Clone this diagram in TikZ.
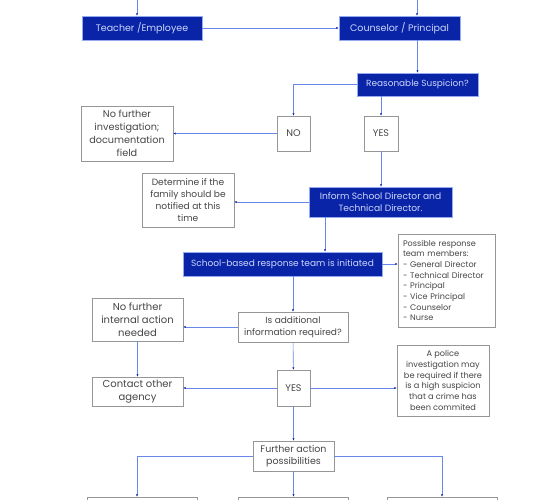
\documentclass[tikz,border=0pt]{standalone}
\usepackage{fontspec}
\setmainfont{Poppins}
\usepackage{xcolor}
\definecolor{bxblue}{RGB}{10,36,168}
\definecolor{lnblue}{RGB}{105,135,232}
\definecolor{bxgray}{RGB}{150,150,150}
\definecolor{txgray}{RGB}{70,70,70}
\definecolor{txlight}{RGB}{205,215,250}
\usetikzlibrary{arrows.meta,positioning}

\tikzset{
  bluebox/.style={draw=lnblue!70, fill=bxblue, text=txlight, align=center, inner sep=2pt, font=\fontsize{9.5}{11}\selectfont},
  graybox/.style={draw=bxgray, fill=white, text=txgray, align=center, inner sep=2pt, font=\fontsize{9.6}{12.5}\selectfont},
  arr/.style={draw=lnblue, line width=0.6pt, -{Latex[length=2.5pt,width=2.2pt,color=bxblue]}},
}

\begin{document}
\begin{tikzpicture}[x=1pt, y=-1pt]
  \clip (0,0) rectangle (550,500);
  \fill[white] (0,0) rectangle (550,500);
  % top row
  \node[bluebox, minimum width=120pt, minimum height=24pt] (teach) at (142,28) {Teacher /Employee};
  \node[bluebox, minimum width=121pt, minimum height=24pt] (couns) at (399.5,28) {Counselor / Principal};
  \node[bluebox, minimum width=121pt, minimum height=23pt, font=\fontsize{8.9}{10}\selectfont] (reas) at (417.5,84.5) {Reasonable Suspicion?};
  % suspicion answers
  \node[graybox, minimum width=33pt, minimum height=35pt] (no) at (293.5,133.5) {NO};
  \node[graybox, minimum width=34pt, minimum height=35pt] (yes) at (381,133.5) {YES};
  \node[graybox, minimum width=92pt, minimum height=55pt, font=\fontsize{9.7}{12.8}\selectfont] (nofurther) at (127,133.5) {No further\\investigation;\\documentation\\field};
  \node[bluebox, minimum width=143pt, minimum height=30pt, font=\fontsize{9.1}{12}\selectfont] (inform) at (380.5,202) {Inform School Director and\\Technical Director.};
  \node[graybox, minimum width=92pt, minimum height=54pt, font=\fontsize{9.1}{12}\selectfont] (family) at (188,200) {Determine if the\\family should be\\notified at this\\time};
  % response team
  \node[bluebox, minimum width=199pt, minimum height=24pt, font=\fontsize{9}{10}\selectfont] (team) at (282.5,264) {School-based response team is initiated};
  \node[graybox, minimum width=97pt, minimum height=93pt, align=left, text width=87pt, inner xsep=5pt, font=\fontsize{8.1}{10.7}\selectfont] (members) at (446.5,280.5) {Possible response\\team members:\\- General Director\\- Technical Director\\- Principal\\- Vice Principal\\- Counselor\\- Nurse};
  \node[graybox, minimum width=110pt, minimum height=30pt, font=\fontsize{9}{12}\selectfont] (addinfo) at (293,327) {Is additional\\information required?};
  \node[graybox, minimum width=91pt, minimum height=43pt, font=\fontsize{10}{13}\selectfont] (internal) at (137.5,319.5) {No further\\internal action\\needed};
  \node[graybox, minimum width=91pt, minimum height=29pt, font=\fontsize{10}{13}\selectfont] (contact) at (137.5,391.5) {Contact other\\agency};
  \node[graybox, minimum width=33pt, minimum height=36pt] (yes2) at (293.5,388) {YES};
  \node[graybox, minimum width=92pt, minimum height=71pt, font=\fontsize{8.2}{10.8}\selectfont] (police) at (443,380.5) {A police\\investigation may\\be required if there\\is a high suspicion\\that a crime has\\been commited};
  \node[graybox, minimum width=81pt, minimum height=30pt, font=\fontsize{9.5}{12}\selectfont] (further) at (293.5,456) {Further action\\possibilities};
  % cut-off boxes at the bottom
  \node[graybox, minimum width=110pt, minimum height=40pt] (bl) at (142,517) {};
  \node[graybox, minimum width=110pt, minimum height=40pt] (bm) at (293,517) {};
  \node[graybox, minimum width=110pt, minimum height=40pt] (br) at (442,517) {};

  \coordinate (tin) at (137,-2);
  \coordinate (cin) at (417,-2);
  \draw[arr] (tin) -- (tin |- teach.north);
  \draw[arr] (cin) -- (cin |- couns.north);
  \draw[arr] (teach) -- (couns);
  \draw[arr] (reas.north |- couns.south) -- (reas.north);
  \draw[arr] (reas.west) -| (no.north);
  \draw[arr] (yes.north |- reas.south) -- (yes.north);
  \draw[arr] (no) -- (nofurther);
  \draw[arr] (yes) -- (yes |- inform.north);
  \draw[arr] (inform.west) -- (inform.west -| family.east);
  \draw[arr] ([xshift=-55.5pt]inform.south) -- ([xshift=-55.5pt]inform.south |- team.north);
  \draw[arr] (team.east) -- (team.east -| members.west);
  \draw[arr] (addinfo.north |- team.south) -- (addinfo.north);
  \draw[arr] (addinfo.west) -- (addinfo.west -| internal.east);
  \draw[arr] (internal) -- (contact);
  \draw[arr] (addinfo) -- (yes2);
  \draw[arr] (yes2.west) -- (yes2.west -| contact.east);
  \draw[arr] (yes2.east) -- (yes2.east -| police.west);
  \draw[arr] (yes2) -- (further);
  \draw[arr] (further.west) -| ([xshift=-5pt]bl.north);
  \draw[arr] (further) -- (further |- bm.north);
  \draw[arr] (further.east) -| (br.north);
\end{tikzpicture}
\end{document}
